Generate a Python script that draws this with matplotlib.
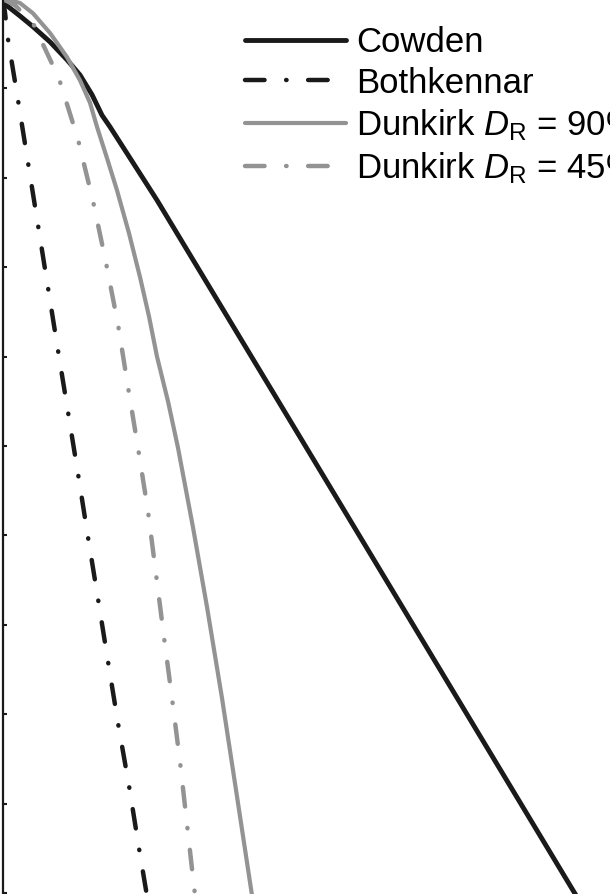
import matplotlib
matplotlib.use('Agg')
import matplotlib.pyplot as plt

plt.rcParams['font.family'] = ['Liberation Sans', 'DejaVu Sans']
plt.rcParams['mathtext.fontset'] = 'custom'
plt.rcParams['mathtext.rm'] = 'Liberation Sans'
plt.rcParams['mathtext.it'] = 'Liberation Sans:italic'

# curves (x: horizontal, y: depth downwards)
cowden_x = [0, 0.17, 0.30, 0.47, 0.64, 0.77, 0.89, 0.99, 1.07, 1.54, 2.97, 5.77]
cowden_y = [0.04, 0.19, 0.31, 0.48, 0.68, 0.85, 1.07, 1.30, 1.43, 2.25, 4.90, 10.10]

both_x = [0, 0.02, 0.05, 0.15, 0.25, 0.35, 0.45, 0.55, 0.65, 0.75, 0.85, 0.95, 1.05, 1.15, 1.26, 1.36, 1.45]
both_y = [0, 0.15, 0.45, 1.13, 1.83, 2.53, 3.23, 3.93, 4.62, 5.31, 6.02, 6.71, 7.41, 8.10, 8.80, 9.50, 10.10]

dk90_x = [0, 0.09, 0.17, 0.30, 0.47, 0.64, 0.77, 0.87, 0.94, 1.04, 1.14, 1.26, 1.37, 1.46, 1.54, 1.65, 1.75, 1.90, 2.04, 2.19, 2.34, 2.50]
dk90_y = [0.01, 0.02, 0.045, 0.16, 0.38, 0.65, 0.91, 1.16, 1.43, 1.78, 2.14, 2.62, 3.11, 3.55, 4.00, 4.50, 5.02, 5.91, 6.80, 7.82, 8.92, 10.10]

dk45_x = [0, 0.12, 0.30, 0.56, 0.75, 0.90, 1.03, 1.15, 1.25, 1.35, 1.45, 1.53, 1.61, 1.69, 1.77, 1.84, 1.91, 1.93]
dk45_y = [0, 0.07, 0.27, 0.89, 1.57, 2.26, 2.95, 3.64, 4.34, 5.02, 5.73, 6.43, 7.14, 7.82, 8.53, 9.23, 9.93, 10.10]

labels = ['Cowden', 'Bothkennar', 'Dunkirk $D_\\mathrm{R}$ = 90%', 'Dunkirk $D_\\mathrm{R}$ = 45%']

black = '#1a1a1a'
grey = '#939393'
dashdot = (0, (4.4, 4.85, 0.1, 4.85))

fig = plt.figure(figsize=(6.10, 8.94), dpi=100)
ax = fig.add_axes([3 / 610, 0, 1 - 3 / 610, 895 / 894])

ax.plot(cowden_x, cowden_y, color=black, lw=3.5, solid_capstyle='round', label=labels[0])
ax.plot(both_x, both_y, color=black, lw=3.2, ls=dashdot, dash_capstyle='round', label=labels[1])
ax.plot(dk90_x, dk90_y, color=grey, lw=3.0, solid_capstyle='round', label=labels[2])
ax.plot(dk45_x, dk45_y, color=grey, lw=3.2, ls=dashdot, dash_capstyle='round', label=labels[3])

ax.set_xlim(0, 6.07)
ax.set_ylim(10.011, 0)
ax.set_yticks(range(0, 11))
ax.set_xticks([])
ax.tick_params(axis='y', direction='in', length=3, width=1.5, color=black, labelleft=False)
for s in ['top', 'right', 'bottom']:
    ax.spines[s].set_visible(False)
ax.spines['left'].set_linewidth(1.6)
ax.spines['left'].set_color(black)

ax.legend(loc='upper left', bbox_to_anchor=(245 / 610, 1 - 26 / 894), bbox_transform=fig.transFigure,
          frameon=False, fontsize=25, borderpad=0, borderaxespad=0, handlelength=2.9,
          handletextpad=0.3, labelspacing=0.22)

fig.savefig('out.png', dpi=100)
